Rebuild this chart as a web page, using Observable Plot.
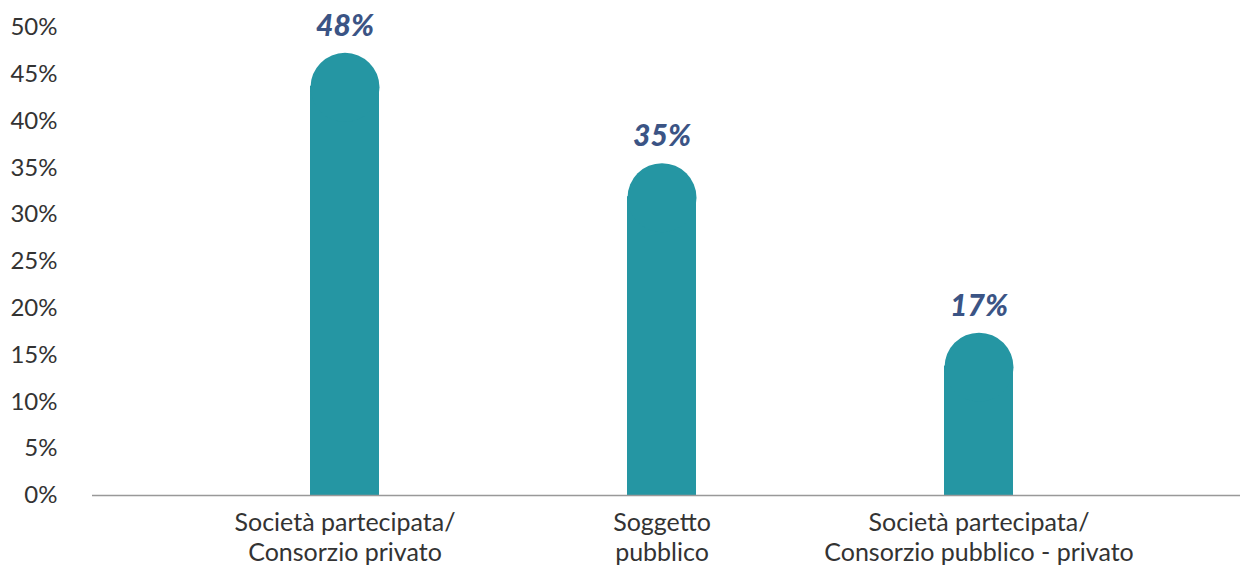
<!DOCTYPE html>
<html>
<head>
<meta charset="utf-8">
<script src="https://cdn.jsdelivr.net/npm/d3@7"></script>
<script src="https://cdn.jsdelivr.net/npm/@observablehq/plot@0.6"></script>
<style>
  html, body { margin: 0; padding: 0; background: #fff; }
  #chart svg { display: block; }
</style>
</head>
<body>
<div id="chart"></div>
<script>
// Categories (x axis labels, two lines each)
const categories = [
  "Società partecipata/\nConsorzio privato",
  "Soggetto\npubblico",
  "Società partecipata/\nConsorzio pubblico - privato"
];
// Bar heights (percent)
const values = [47.3, 35.5, 17.4];
// Value labels printed above the bars
const valueLabels = ["48%", "35%", "17%"];
// Y axis ticks (percent)
const yTicks = [0, 5, 10, 15, 20, 25, 30, 35, 40, 45, 50];

const data = categories.map((c, i) => ({cat: c, value: values[i], label: valueLabels[i]}));

const barColor = "#2596a3";
const labelColor = "#3b5485";
const R = 34.5;

const chart = Plot.plot({
  width: 1240,
  height: 565,
  marginLeft: 92,
  marginRight: 0,
  marginTop: 0,
  marginBottom: 70,
  style: {fontFamily: "Lato, 'Open Sans', sans-serif", background: "#fff", color: "#333"},
  x: {domain: categories, range: [186, 1138], paddingInner: 0.782, paddingOuter: 0.391, axis: null},
  y: {domain: [0, 50], range: [495, 27], axis: null},
  marks: [
    Plot.axisY(yTicks, {
      tickSize: 0, tickPadding: 35, fontSize: 24, fill: "#333",
      tickFormat: d => d + "%", label: null
    }),
    Plot.barY(data, {x: "cat", y: "value", fill: barColor, insetTop: R - 1}),
    Plot.dot(data, {x: "cat", y: "value", r: R, dy: R, fill: barColor, stroke: null}),
    Plot.ruleY([0], {stroke: "#999", strokeWidth: 1.5}),
    Plot.text(data, {
      x: "cat", y: 0, text: "cat", dy: 15, lineAnchor: "top", lineHeight: 1.18,
      fontSize: 25, fill: "#333", textAnchor: "middle"
    }),
    Plot.text(data, {
      x: "cat", y: "value", text: "label", dy: -17, lineAnchor: "bottom",
      fontSize: 30, fontWeight: 900, fontStyle: "italic", fill: labelColor
    })
  ]
});
document.getElementById("chart").appendChild(chart);
</script>
</body>
</html>
